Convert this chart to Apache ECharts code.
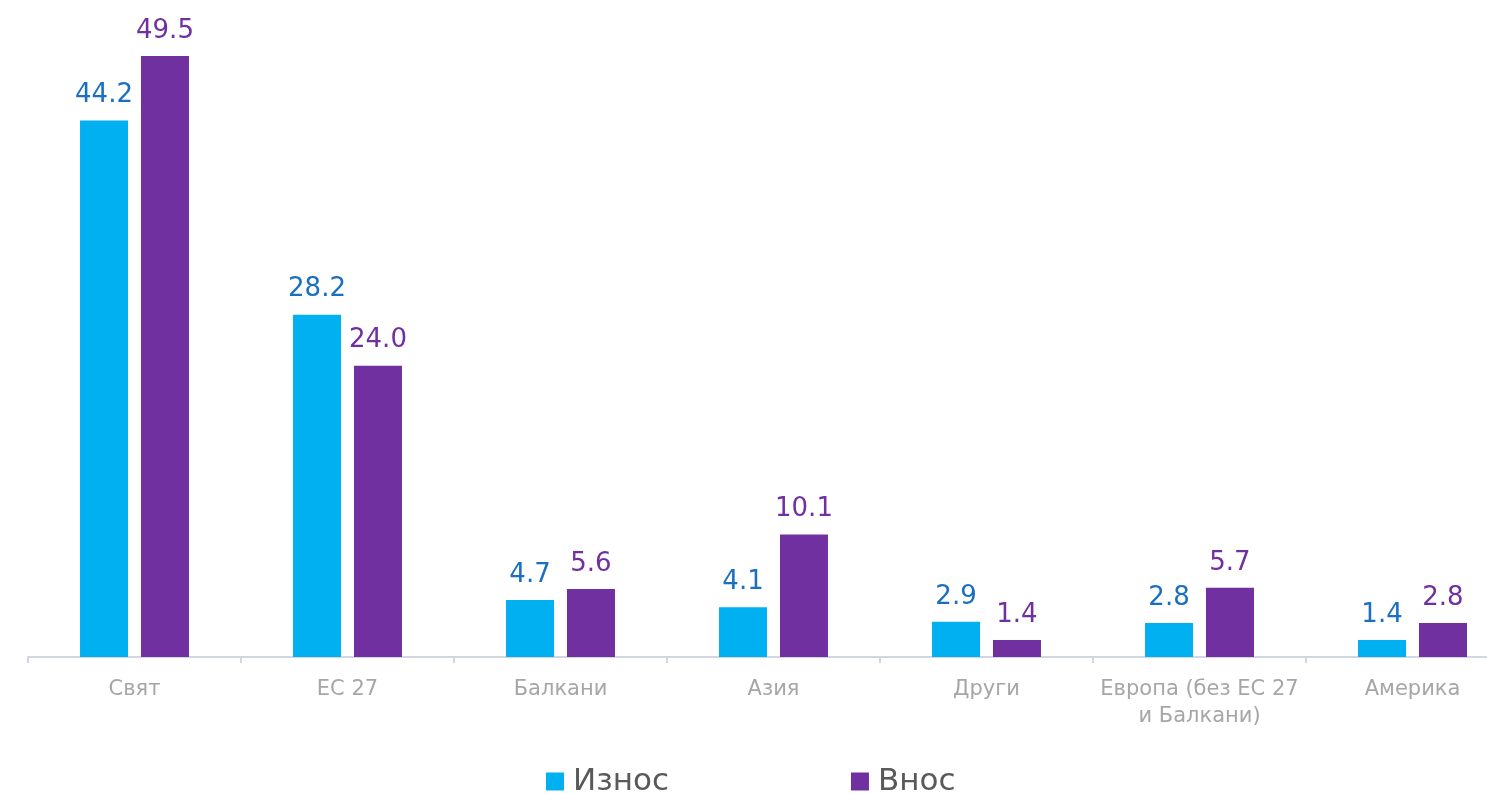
<!DOCTYPE html>
<html><head><meta charset="utf-8">
<script src="https://cdn.jsdelivr.net/npm/echarts@6/dist/echarts.min.js"></script>
<style>html,body{margin:0;padding:0;background:#fff;overflow:hidden;width:1487px;height:794px}#c{width:1519px;height:794px}</style>
</head><body><div id="c"></div>
<script>
const categories = ['Свят', 'ЕС 27', 'Балкани', 'Азия', 'Други', 'Европа (без ЕС 27\nи Балкани)', 'Америка'];
const exportVals = [44.2, 28.2, 4.7, 4.1, 2.9, 2.8, 1.4];
const importVals = [49.5, 24.0, 5.6, 10.1, 1.4, 5.7, 2.8];
const seriesNames = ['Износ', 'Внос'];
const font = 'DejaVu Sans, Verdana, sans-serif';
const chart = echarts.init(document.getElementById('c'));
chart.setOption({
  animation: false,
  textStyle: {fontFamily: font},
  grid: {left: 28, right: 0, top: 50, bottom: 137, containLabel: false},
  legend: {
    data: seriesNames, left: 541, top: 761, icon: 'rect', itemWidth: 18, itemHeight: 18,
    itemGap: 182, textStyle: {fontSize: 31, color: '#595959', fontFamily: font, padding: [0, 0, 0, 4]}
  },
  xAxis: {
    type: 'category', data: categories,
    axisLine: {lineStyle: {color: '#d0d7e0', width: 2}},
    axisTick: {show: true, length: 6, lineStyle: {color: '#d0d7e0', width: 2}},
    axisLabel: {interval: 0, color: '#a6a6a6', fontSize: 21, margin: 19, lineHeight: 27, fontFamily: font}
  },
  yAxis: {type: 'value', min: 0, max: 50, show: false, splitLine: {show: false}},
  series: [
    {name: seriesNames[0], type: 'bar', data: exportVals, barWidth: 48, barGap: '27%',
     itemStyle: {color: '#00B0F0'},
     label: {show: true, position: 'top', distance: 12, color: '#1a6fc0', fontSize: 26, fontFamily: font,
       formatter: p => p.value.toFixed(1)}},
    {name: seriesNames[1], type: 'bar', data: importVals, barWidth: 48,
     itemStyle: {color: '#7030A0'},
     label: {show: true, position: 'top', distance: 12, color: '#7030A0', fontSize: 26, fontFamily: font,
       formatter: p => p.value.toFixed(1)}}
  ]
});
</script></body></html>
